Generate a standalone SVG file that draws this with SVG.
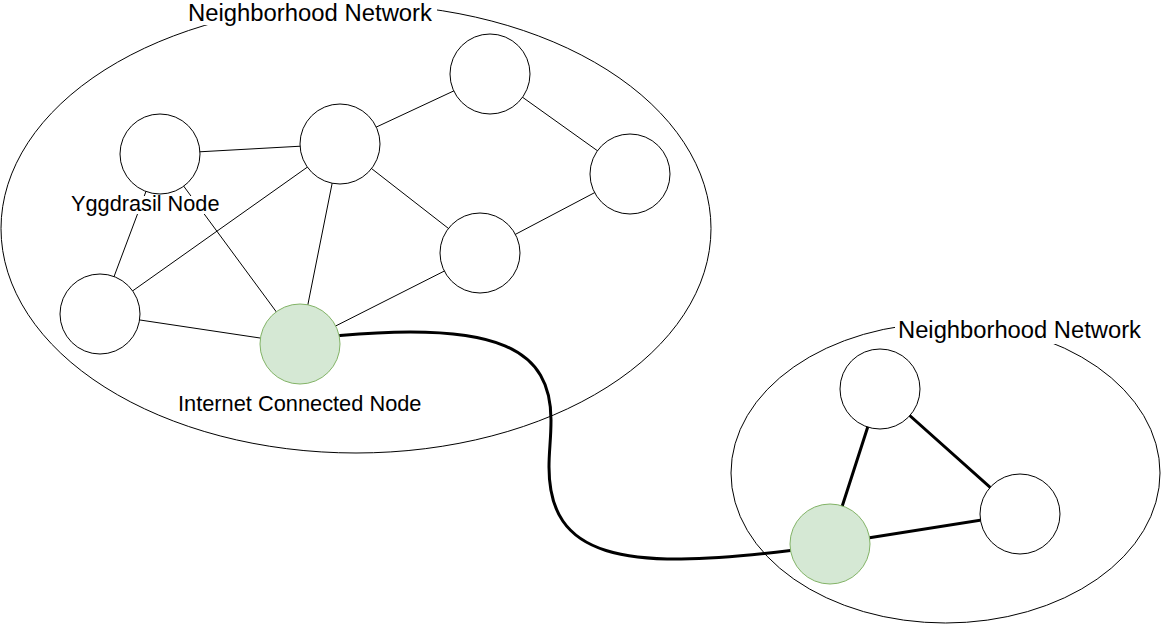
<svg xmlns="http://www.w3.org/2000/svg" width="1161" height="625" viewBox="0 0 1161 625">
<style>
.region{fill:#ffffff;stroke:#000000;stroke-width:1}
.node{fill:#ffffff;stroke:#000000;stroke-width:1}
.inet{fill:#d5e8d4;stroke:#82b366;stroke-width:1}
.edge{stroke:#000000;stroke-width:1;fill:none}
.thick{stroke:#000000;stroke-width:3;fill:none;stroke-linecap:round}
.lbl{font-family:"Liberation Sans",Arial,Helvetica,sans-serif;fill:#000000}
.bg{fill:#ffffff;stroke:none}
</style>
<rect x="0" y="0" width="1161" height="625" fill="#ffffff"/>
<g id="network-large">
<ellipse class="region" cx="356" cy="228.5" rx="355" ry="224.5"/>
<rect class="bg" x="186" y="0" width="251" height="25"/>
<text class="lbl" x="188" y="20.5" font-size="23" textLength="244" lengthAdjust="spacingAndGlyphs">Neighborhood Network</text>
</g>
<g id="network-small">
<ellipse class="region" cx="945.5" cy="473" rx="214.5" ry="150"/>
<rect class="bg" x="895" y="316" width="248" height="28"/>
<text class="lbl" x="898" y="338" font-size="23" textLength="243" lengthAdjust="spacingAndGlyphs">Neighborhood Network</text>
</g>
<g id="connectors">
<line class="edge" x1="160" y1="154" x2="340" y2="144"/>
<line class="edge" x1="160" y1="154" x2="100" y2="314"/>
<line class="edge" x1="160" y1="154" x2="300" y2="344"/>
<line class="edge" x1="340" y1="144" x2="490" y2="74"/>
<line class="edge" x1="340" y1="144" x2="480" y2="253"/>
<line class="edge" x1="340" y1="144" x2="100" y2="314"/>
<line class="edge" x1="340" y1="144" x2="300" y2="344"/>
<line class="edge" x1="490" y1="74" x2="630" y2="174"/>
<line class="edge" x1="630" y1="174" x2="480" y2="253"/>
<line class="edge" x1="480" y1="253" x2="300" y2="344"/>
<line class="edge" x1="100" y1="314" x2="300" y2="344"/>
<line class="thick" x1="880" y1="389" x2="830" y2="544"/>
<line class="thick" x1="880" y1="389" x2="1020" y2="514"/>
<line class="thick" x1="830" y1="544" x2="1020" y2="514"/>
<path class="thick" d="M340 335.5 C500 321 551 350 551 420 C551 440 549 450 549 467 C549 557 620.5 571.8 790.5 550.5"/>
</g>
<g id="label-yggdrasil">
<rect class="bg" x="70" y="196" width="152" height="18"/>
<text class="lbl" x="71" y="210.7" font-size="22" textLength="148.5" lengthAdjust="spacingAndGlyphs">Yggdrasil Node</text>
</g>
<g id="node-a"><circle class="node" cx="160" cy="154" r="40"/></g>
<g id="node-b"><circle class="node" cx="340" cy="144" r="40"/></g>
<g id="node-c"><circle class="node" cx="490" cy="74" r="40"/></g>
<g id="node-d"><circle class="node" cx="630" cy="174" r="40"/></g>
<g id="node-e"><circle class="node" cx="480" cy="253" r="40"/></g>
<g id="node-f"><circle class="node" cx="100" cy="314" r="40"/></g>
<g id="node-g"><circle class="inet" cx="300" cy="344" r="40"/>
<text class="lbl" x="178" y="411.3" font-size="22" textLength="243.5" lengthAdjust="spacingAndGlyphs">Internet Connected Node</text>
</g>
<g id="node-h"><circle class="node" cx="880" cy="389" r="40"/></g>
<g id="node-i"><circle class="node" cx="1020" cy="514" r="40"/></g>
<g id="node-j"><circle class="inet" cx="830" cy="544" r="40"/></g>
</svg>
